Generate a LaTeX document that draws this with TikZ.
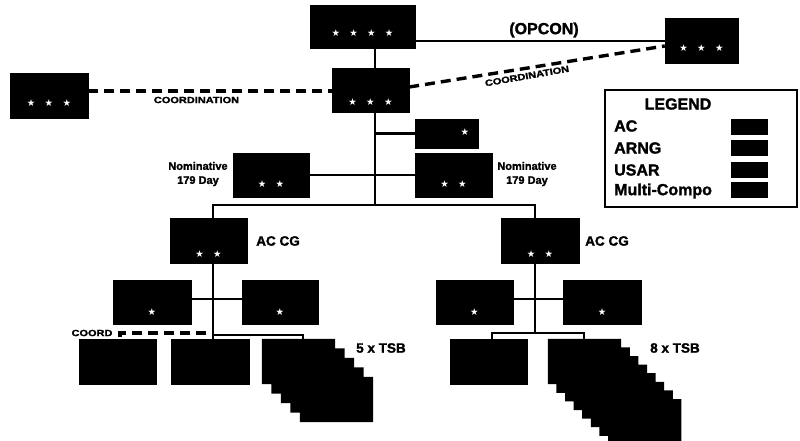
\documentclass[tikz,border=0pt]{standalone}
\usepackage{fontspec}
\setmainfont{Liberation Sans}[BoldFeatures={FakeBold=1.6}]
\newfontfamily\symfont{DejaVu Sans}
\newcommand\gapst{\hspace{9.3pt}}
\begin{document}
\begin{tikzpicture}[x=1pt,y=-1pt,
  box/.style={fill=black,draw=black,inner sep=0pt,minimum width=77pt,minimum height=44pt},
  ghost/.style={inner sep=0pt,minimum width=73pt,minimum height=45pt},
  link/.style={line width=2.6pt},
  dashlink/.style={line width=3.4pt,dash pattern=on 10pt off 6pt},
  lbl/.style={font=\bfseries\fontsize{11}{12}\selectfont,inner sep=0pt},
  starsn/.style={text=white,font=\symfont\fontsize{9.5}{9.5}\selectfont,inner sep=0pt}
]
\useasboundingbox (0,0) rectangle (800,440);

% helper coordinates
\coordinate (tx) at (375,0);
\coordinate (lx) at (213,0);
\coordinate (rx) at (535,0);
\coordinate (opy) at (0,41);
\coordinate (busy) at (0,205);
\coordinate (hy) at (0,299);
\coordinate (sy) at (0,335);
\coordinate (ry) at (0,333);
\coordinate (sxL) at (303,0);
\coordinate (bxR) at (492,0);
\coordinate (sxR) at (584,0);

% boxes
\node[box,minimum width=105pt,minimum height=43pt] (top4) at (362.5,26.5) {};
\node[box,minimum width=73pt,minimum height=45pt] (right3) at (701.5,40.5) {};
\node[box] (mid3) at (370.5,90) {};
\node[box,minimum width=78pt,minimum height=45pt] (left3) at (49,95.5) {};
\node[box,minimum width=63pt,minimum height=29pt] (one) at (446.5,133.5) {};
\node[box,minimum width=76pt] (nomL) at (271,175) {};
\node[box] (nomR) at (453.5,175) {};
\node[box,minimum height=45pt] (acL) at (208.5,240.5) {};
\node[box,minimum width=78pt,minimum height=45pt] (acR) at (540,240.5) {};
\node[box,minimum width=78pt] (bgL1) at (152,302) {};
\node[box,minimum width=76pt] (bgL2) at (280,302) {};
\node[box] (bgR1) at (474.5,302) {};
\node[box,minimum width=78pt] (bgR2) at (602,302) {};
\node[box,minimum height=45pt] (bA) at (117.5,361.5) {};
\node[box,minimum width=78pt,minimum height=45pt] (bB) at (210,361.5) {};
\node[box,minimum height=45pt] (bC) at (488.5,361.5) {};

% stacked TSB boxes: outline of the whole staircase as one polygon
\foreach \i in {0,...,4}
  \node[ghost] (sA\i) at (298.5+9.5*\i,361.5+9.5*\i) {};
\foreach \i in {0,...,7}
  \node[ghost] (sB\i) at (584.5+8.6*\i,361.5+8.6*\i) {};
\fill[black] (sA0.north west)
  \foreach \i/\j in {0/1,1/2,2/3,3/4} {-- (sA\i.north east) -- (sA\i.north east |- sA\j.north)}
  -- (sA4.north east) -- (sA4.south east) -- (sA4.south west)
  \foreach \i/\j in {4/3,3/2,2/1,1/0} {-- (sA\i.south west |- sA\j.south) -- (sA\j.south west)}
  -- cycle;
\fill[black] (sB0.north west)
  \foreach \i/\j in {0/1,1/2,2/3,3/4,4/5,5/6,6/7} {-- (sB\i.north east) -- (sB\i.north east |- sB\j.north)}
  -- (sB7.north east) -- (sB7.south east) -- (sB7.south west)
  \foreach \i/\j in {7/6,6/5,5/4,4/3,3/2,2/1,1/0} {-- (sB\i.south west |- sB\j.south) -- (sB\j.south west)}
  -- cycle;

% stars
\node[starsn] (st1) at ([yshift=15pt]top4.south) {★\gapst★\gapst★\gapst★};
\node[starsn] (st2) at ([yshift=15pt]right3.south) {★\gapst★\gapst★};
\node[starsn] (st3) at ([yshift=10pt]mid3.south) {★\gapst★\gapst★};
\node[starsn] (st4) at ([yshift=15pt]left3.south) {★\gapst★\gapst★};
\node[starsn] (st5) at ([xshift=18.5pt,yshift=1pt]one.center) {★};
\node[starsn] (st6) at ([yshift=13pt]nomL.south) {★\gapst★};
\node[starsn] (st7) at ([yshift=13pt]nomR.south) {★\gapst★};
\node[starsn] (st8) at ([yshift=9pt]acL.south) {★\gapst★};
\node[starsn] (st9) at ([yshift=9pt]acR.south) {★\gapst★};
\node[starsn] (st10) at ([yshift=12pt]bgL1.south) {★};
\node[starsn] (st11) at ([yshift=12pt]bgL2.south) {★};
\node[starsn] (st12) at ([yshift=12pt]bgR1.south) {★};
\node[starsn] (st13) at ([yshift=12pt]bgR2.south) {★};

% connectors
\draw[link] (top4.south -| tx) -- (mid3.north -| tx);
\draw[link] (top4.east |- opy) -- (right3.west |- opy);
\draw[link] (mid3.south -| tx) -- (tx |- busy);
\draw[link] (tx |- one.west) -- (one.west);
\draw[link] (nomL.east) -- (nomR.west);
\draw[link] (acL.north -| lx) |- (rx |- busy) -- (acR.north -| rx);
\draw[dashlink] (left3.east |- 0,91) -- (mid3.west |- 0,91);
\draw[dashlink] (mid3.east |- 0,87) -- (right3.west |- 0,46);

% left branch
\draw[link] (acL.south -| lx) -- (bB.north -| lx);
\draw[link] (bgL1.east |- hy) -- (bgL2.west |- hy);
\draw[link] (lx |- sy) -| (sxL |- sA0.north);
\draw[dashlink] ([xshift=-7pt]lx |- ry) -| ([xshift=2.5pt]bA.north);

% right branch
\draw[link] (acR.south -| rx) -- (rx |- ry);
\draw[link] (bgR1.east |- hy) -- (bgR2.west |- hy);
\draw[link] (bxR |- bC.north) |- (rx |- ry) -| (sxR |- sB0.north);

% labels
\node[lbl,font=\bfseries\fontsize{16}{18}\selectfont] (opcon) at (544,30) {(OPCON)};
\node[lbl,font=\bfseries\fontsize{9}{10}\selectfont] (coordL) at (196.5,100) {\scalebox{1.22}[1]{COORDINATION}};
\node[lbl,font=\bfseries\fontsize{9}{10}\selectfont,rotate=10] (coordR) at (527,76) {\scalebox{1.22}[1]{COORDINATION}};
\node[lbl,align=center,font=\bfseries\fontsize{11}{14}\selectfont] (nomtL) at (198,174) {Nominative\\179 Day};
\node[lbl,align=center,font=\bfseries\fontsize{11}{14}\selectfont] (nomtR) at (527,174) {Nominative\\179 Day};
\node[lbl,font=\bfseries\fontsize{13.5}{15}\selectfont] (accgL) at (278,241) {AC CG};
\node[lbl,font=\bfseries\fontsize{13.5}{15}\selectfont] (accgR) at (607,241) {AC CG};
\node[lbl,font=\bfseries\fontsize{13.5}{15}\selectfont] (tsbL) at (381,348) {5 x TSB};
\node[lbl,font=\bfseries\fontsize{13.5}{15}\selectfont] (tsbR) at (675,348) {8 x TSB};
\node[lbl,font=\bfseries\fontsize{9}{10}\selectfont] (coordt) at (92,333) {\scalebox{1.22}[1]{COORD}};

% legend
\node[draw,line width=1.4pt,minimum width=192pt,minimum height=117pt,inner sep=0pt] (legend) at (701,148.5) {};
\node[lbl,font=\bfseries\fontsize{16}{18}\selectfont] (legt) at (678,104) {LEGEND};
\node[lbl,anchor=west,font=\bfseries\fontsize{16}{18}\selectfont] (l1) at (614,126) {AC};
\node[lbl,anchor=west,font=\bfseries\fontsize{16}{18}\selectfont] (l2) at (614,148) {ARNG};
\node[lbl,anchor=west,font=\bfseries\fontsize{16}{18}\selectfont] (l3) at (614,170) {USAR};
\node[lbl,anchor=west,font=\bfseries\fontsize{16}{18}\selectfont] (l4) at (614,191) {Multi-Compo};
\node[box,minimum width=36pt,minimum height=15pt] (sw1) at (749,126.5) {};
\node[box,minimum width=36pt,minimum height=15pt] (sw2) at (749,147.5) {};
\node[box,minimum width=36pt,minimum height=15pt] (sw3) at (749,169.5) {};
\node[box,minimum width=36pt,minimum height=15pt] (sw4) at (749,190) {};
\end{tikzpicture}
\end{document}
